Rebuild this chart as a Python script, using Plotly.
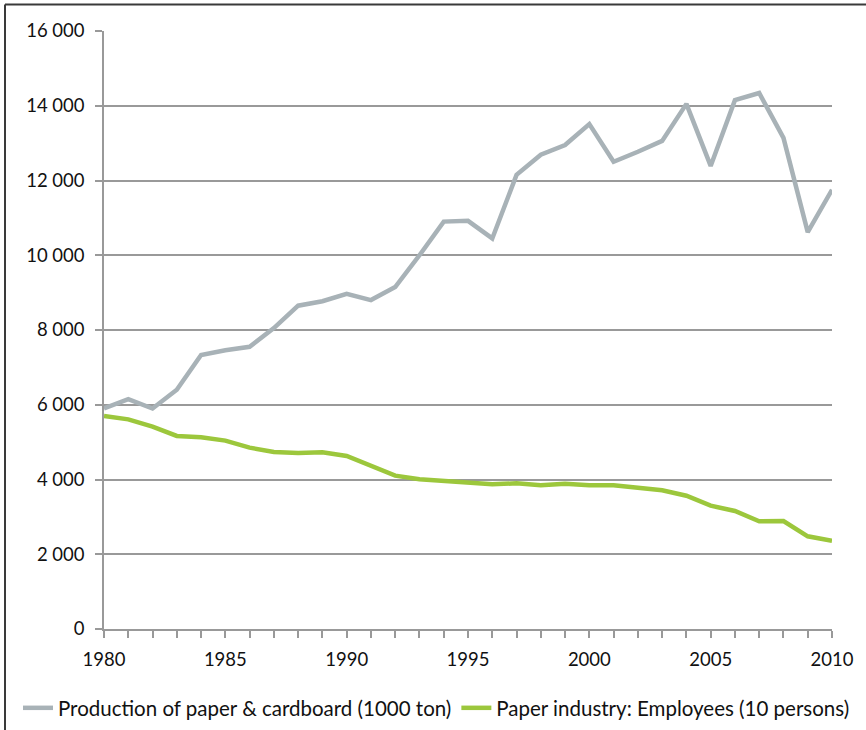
import plotly.graph_objects as go

years = list(range(1980, 2011))
production = [5900, 6150, 5900, 6400, 7330, 7460, 7550, 8050, 8650, 8770, 8970,
              8800, 9150, 10000, 10900, 10920, 10450, 12150, 12690, 12950, 13510,
              12500, 12770, 13060, 14050, 12390, 14150, 14340, 13140, 10620, 11750]
employees = [5700, 5610, 5414, 5165, 5130, 5040, 4852, 4737, 4710, 4728, 4630,
             4362, 4103, 4005, 3960, 3942, 3871, 3898, 3844, 3888, 3844,
             3844, 3790, 3710, 3567, 3300, 3158, 2882, 2890, 2480, 2363]

name_prod = "Production of paper & cardboard (1000 ton)"
name_emp = "Paper industry: Employees (10 persons)"

FONT = "Lato"
GRID = "#999999"
TXT = "#111111"

fig = go.Figure()
fig.add_trace(go.Scatter(x=years, y=production, mode="lines", name=name_prod,
                         line=dict(color="#A8B2B7", width=4.5)))
fig.add_trace(go.Scatter(x=years, y=employees, mode="lines", name=name_emp,
                         line=dict(color="#9CC73C", width=4.5)))

W, H = 866, 730
L, R, T, B = 104, 34, 31, 101
pw, ph = W - L - R, H - T - B

def px(x):
    return (x - L) / pw

def py(y):
    return (H - B - y) / ph

fig.update_layout(
    width=W, height=H,
    margin=dict(l=L, r=R, t=T, b=B, autoexpand=False),
    paper_bgcolor="white", plot_bgcolor="white",
    separators=", ",
    font=dict(family=FONT, size=18, color=TXT),
    showlegend=True,
    legend=dict(orientation="h", x=px(18), y=py(708), xanchor="left", yanchor="middle",
                font=dict(family=FONT, size=20.5, color=TXT),
                bgcolor="rgba(0,0,0,0)"),
    xaxis=dict(range=[1980, 2010], tickmode="linear", tick0=1980, dtick=5,
               showgrid=False, zeroline=False, showline=True, linecolor=GRID, linewidth=1.5,
               ticks="outside", ticklen=7, tickwidth=1.5, tickcolor=GRID,
               minor=dict(dtick=1, ticks="outside", ticklen=7, tickwidth=1.5, tickcolor=GRID, showgrid=False),
               tickfont=dict(family=FONT, size=18.5, color=TXT), ticklabelstandoff=6),
    yaxis=dict(range=[0, 16000], tickmode="linear", tick0=0, dtick=2000, tickformat=",d",
               showgrid=True, gridcolor=GRID, gridwidth=1.5, zeroline=False,
               showline=True, linecolor=GRID, linewidth=1.5,
               ticks="outside", ticklen=7, tickwidth=1.5, tickcolor=GRID,
               tickfont=dict(family=FONT, size=18.5, color=TXT), ticklabelstandoff=7),
    shapes=[
        dict(type="line", xref="paper", yref="paper", x0=px(5), x1=px(866), y0=py(4.5), y1=py(4.5),
             line=dict(color="#3a3a3a", width=2)),
        dict(type="line", xref="paper", yref="paper", x0=px(5), x1=px(5), y0=py(730), y1=py(4.5),
             line=dict(color="#3a3a3a", width=2)),
    ],
)

fig.write_html("out.html", config={"displayModeBar": False},
               post_script="document.body.style.margin='0';document.body.style.padding='0';")
